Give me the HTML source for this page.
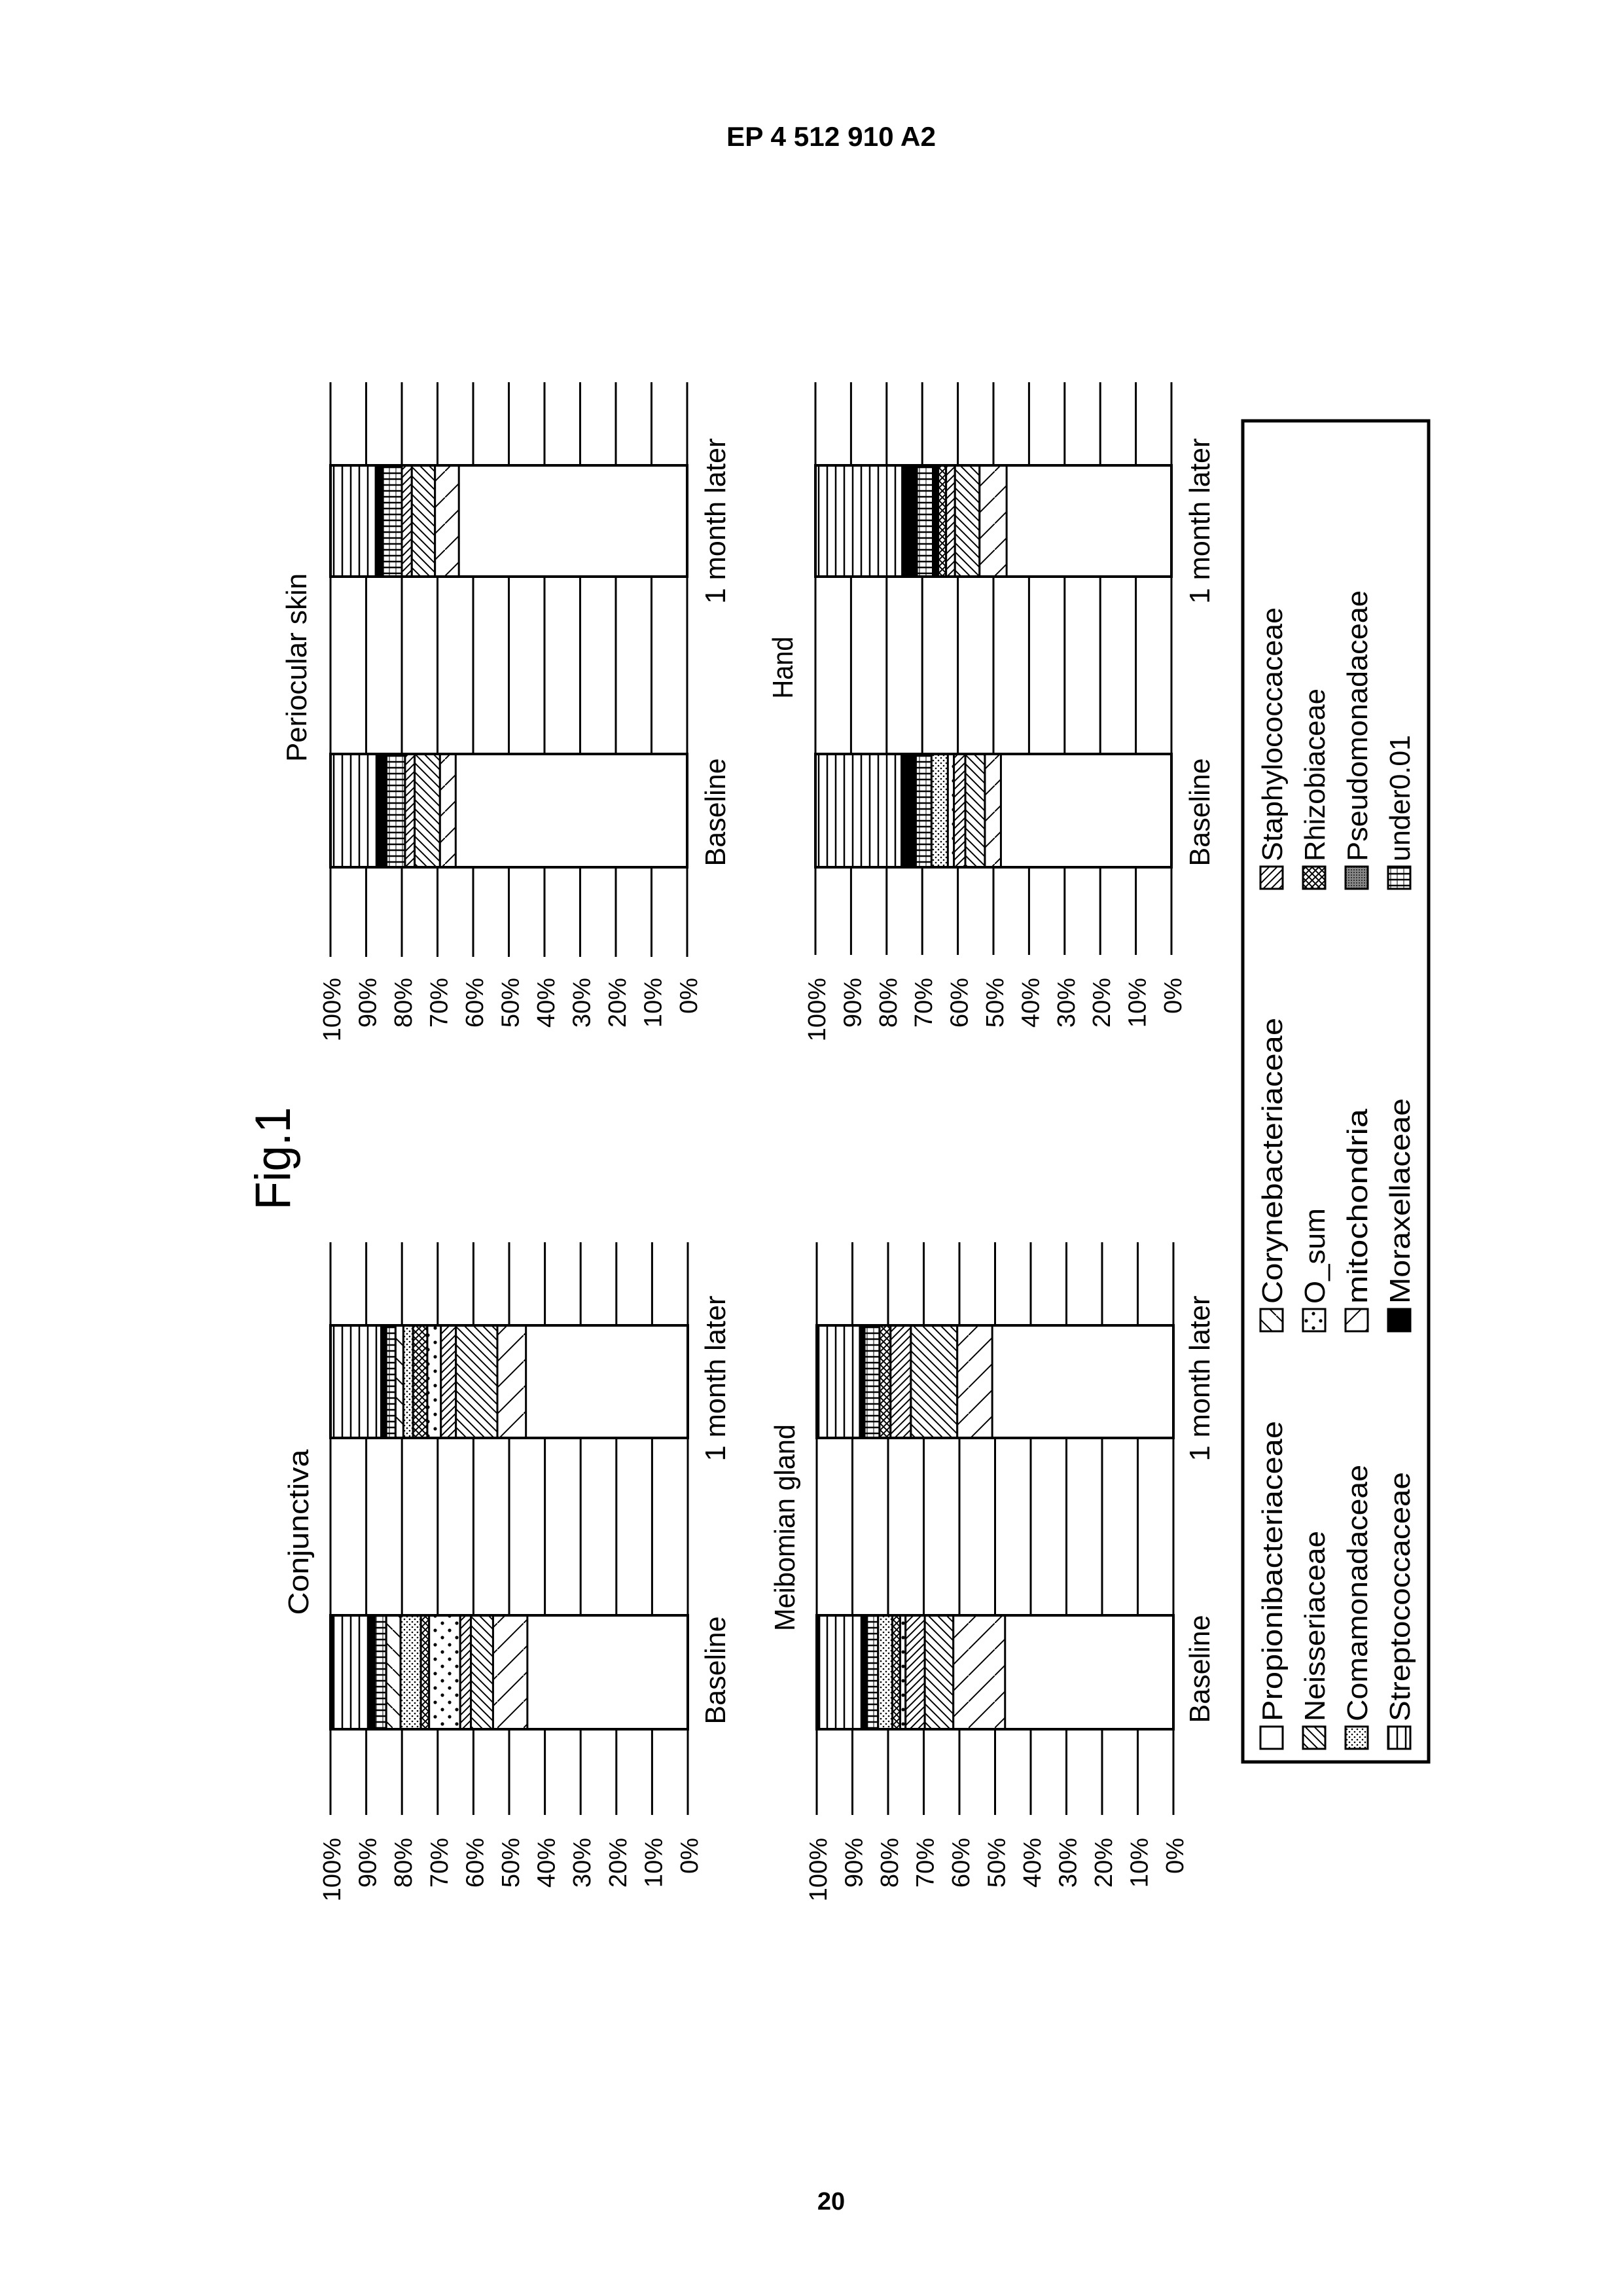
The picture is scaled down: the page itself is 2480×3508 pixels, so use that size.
<!DOCTYPE html>
<html><head><meta charset="utf-8">
<style>html,body{margin:0;padding:0;background:#fff}svg{display:block}</style>
</head><body>
<svg id="s" xmlns="http://www.w3.org/2000/svg" width="2480" height="3508" viewBox="0 0 2480 3508" font-family="Liberation Sans, Arial, sans-serif"></svg>
<script>
var defs=`<defs>
<pattern id="strep" width="13" height="10" patternUnits="userSpaceOnUse"><rect width="13" height="10" fill="#fff"/><line x1="3" y1="0" x2="3" y2="10" stroke="#000" stroke-width="2.5"/></pattern>
<pattern id="under" width="10" height="9" patternUnits="userSpaceOnUse"><rect width="10" height="9" fill="#fff"/><line x1="0" y1="3" x2="10" y2="3" stroke="#000" stroke-width="2.5"/><line x1="5" y1="0" x2="5" y2="9" stroke="#000" stroke-width="1"/></pattern>
<pattern id="cory" width="30" height="30" patternUnits="userSpaceOnUse"><rect width="30" height="30" fill="#fff"/><line x1="0" y1="0" x2="30" y2="30" stroke="#000" stroke-width="2"/></pattern>
<pattern id="coma" width="8" height="8" patternUnits="userSpaceOnUse"><rect width="8" height="8" fill="#fff"/><circle cx="2" cy="2" r="1.3" fill="#000"/><circle cx="6" cy="6" r="1.3" fill="#000"/></pattern>
<pattern id="rhizo" width="10" height="10" patternUnits="userSpaceOnUse"><rect width="10" height="10" fill="#fff"/><path d="M0 0L10 10M10 0L0 10" stroke="#000" stroke-width="2"/></pattern>
<pattern id="osum" width="22" height="22" patternUnits="userSpaceOnUse"><rect width="22" height="22" fill="#fff"/><circle cx="5" cy="5" r="2.6" fill="#000"/><circle cx="16" cy="16" r="2.6" fill="#000"/></pattern>
<pattern id="staph" width="12" height="12" patternUnits="userSpaceOnUse"><rect width="12" height="12" fill="#fff"/><path d="M0 12L12 0M-3 3L3 -3M9 15L15 9" stroke="#000" stroke-width="2"/></pattern>
<pattern id="neiss" width="14" height="14" patternUnits="userSpaceOnUse"><rect width="14" height="14" fill="#fff"/><path d="M0 0L14 14M-3 11L3 17M11 -3L17 3" stroke="#000" stroke-width="2"/></pattern>
<pattern id="mito" width="40" height="40" patternUnits="userSpaceOnUse"><rect width="40" height="40" fill="#fff"/><path d="M0 40L40 0" stroke="#000" stroke-width="2"/></pattern>
<pattern id="pseu" width="4" height="4" patternUnits="userSpaceOnUse"><rect width="4" height="4" fill="#888"/><rect width="2" height="2" fill="#333"/></pattern>
</defs>`;
var o=defs;
function T(x,y,txt,fs,anchor,len,weight){
  return `<text transform="translate(${x},${y}) rotate(-90)" font-size="${fs}" text-anchor="${anchor}"${len?` textLength="${len}" lengthAdjust="spacingAndGlyphs"`:''}${weight?` font-weight="${weight}"`:''}>${txt}</text>`;
}
var CB=[["blk",100,99.3],["strep",99.3,89.3],["blk",89.3,87.6],["under",87.6,84.4],["cory",84.4,80.4],["coma",80.4,74.7],["rhizo",74.7,72.4],["osum",72.4,63.7],["staph",63.7,60.7],["neiss",60.7,54.5],["mito",54.5,44.9]];
var CM=[["strep",100,85.8],["blk",85.8,84.4],["under",84.4,81.8],["cory",81.8,79.6],["coma",79.6,76.9],["rhizo",76.9,72.9],["osum",72.9,69.1],["staph",69.1,64.9],["neiss",64.9,53.3],["mito",53.3,45.3]];
var PB=[["strep",100,86.7],["blk",86.7,84.3],["under",84.3,79.1],["staph",79.1,76.4],["neiss",76.4,69.3],["mito",69.3,64.9]];
var PM=[["strep",100,87.3],["blk",87.3,85.3],["under",85.3,80],["staph",80,77.2],["neiss",77.2,70.7],["mito",70.7,64]];
var MB=[["blk",100,99.3],["strep",99.3,87.3],["blk",87.3,85.9],["under",85.9,82.8],["coma",82.8,78.8],["rhizo",78.8,76.6],["osum",76.6,75.1],["staph",75.1,69.7],["neiss",69.7,61.7],["mito",61.7,47.2]];
var MM=[["strep",100,87.9],["blk",87.9,86.6],["under",86.6,82.4],["rhizo",82.4,79.3],["staph",79.3,73.6],["neiss",73.6,60.6],["mito",60.6,50.8]];
var HB=[["strep",100,75.8],["blk",75.8,71.8],["under",71.8,67.4],["coma",67.4,62.8],["osum",62.8,61.1],["staph",61.1,57.9],["neiss",57.9,52.4],["mito",52.4,47.9]];
var HM=[["strep",100,75.6],["blk",75.6,71.5],["under",71.5,67],["blk",67,65.5],["rhizo",65.5,63.3],["staph",63.3,60.8],["neiss",60.8,53.9],["mito",53.9,46.3]];
var charts=[
 {x100:505,x0:1051,gy0:1898,gy1:2773,b:[2468,2642,CB],m:[2025,2197,CM],title:"Conjunctiva",tx:471,tcy:2341,tl:253,lx:1108,lb:2552,lm:2106,py:2808},
 {x100:505,x0:1050,gy0:584,gy1:1462,b:[1152,1325,PB],m:[711,881,PM],title:"Periocular skin",tx:468,tcy:1020,tl:288,lx:1108,lb:1241,lm:796,py:1494},
 {x100:1248,x0:1793,gy0:1898,gy1:2773,b:[2468,2642,MB],m:[2025,2197,MM],title:"Meibomian gland",tx:1214,tcy:2334,tl:316,lx:1848,lb:2550,lm:2106,py:2808},
 {x100:1246,x0:1790,gy0:584,gy1:1459,b:[1152,1325,HB],m:[711,881,HM],title:"Hand",tx:1211,tcy:1020,tl:95,lx:1848,lb:1241,lm:796,py:1494}
];
charts.forEach(function(c){
  function X(p){return c.x0-(c.x0-c.x100)*p/100;}
  for(var k=0;k<=10;k++){
    var gx=X(k*10);
    o+=`<line x1="${gx}" y1="${c.gy0}" x2="${gx}" y2="${c.gy1}" stroke="#000" stroke-width="3"/>`;
    o+=T(gx+15,c.py,(k*10)+"%",38,"end");
  }
  [c.b,c.m].forEach(function(bar){
    var y0=bar[0],h=bar[1]-bar[0];
    o+=`<rect x="${X(100)}" y="${y0}" width="${X(0)-X(100)}" height="${h}" fill="#fff"/>`;
    bar[2].forEach(function(s){
      var xa=X(s[1]),xb=X(s[2]);
      var f=s[0]=="blk"?"#000":"url(#"+s[0]+")";
      o+=`<rect x="${xa}" y="${y0}" width="${xb-xa}" height="${h}" fill="${f}" stroke="#000" stroke-width="3"/>`;
    });
    o+=`<rect x="${X(100)}" y="${y0}" width="${X(0)-X(100)}" height="${h}" fill="none" stroke="#000" stroke-width="4"/>`;
  });
  o+=T(c.tx,c.tcy,c.title,44,"middle",c.tl);
  o+=T(c.lx,c.lb,"Baseline",44,"middle",165);
  o+=T(c.lx,c.lm,"1 month later",44,"middle",253);
});
// legend
o+=`<rect x="1899" y="643" width="284" height="2049" fill="none" stroke="#000" stroke-width="5"/>`;
var rows=[1943,2008,2073,2138];
var cols=[2672,2034,1358];
var items=[
 [0,0,"#fff","Propionibacteriaceae",459],[1,0,"url(#neiss)","Neisseriaceae",291],[2,0,"url(#coma)","Comamonadaceae",392],[3,0,"url(#strep)","Streptococcaceae",381],
 [0,1,"url(#cory)","Corynebacteriaceae",437],[1,1,"url(#osum)","O_sum",146],[2,1,"url(#mito)","mitochondria",298],[3,1,"#000","Moraxellaceae",314],
 [0,2,"url(#staph)","Staphylococcaceae",388],[1,2,"url(#rhizo)","Rhizobiaceae",264],[2,2,"url(#pseu)","Pseudomonadaceae",414],[3,2,"url(#under)","under0.01",193]
];
items.forEach(function(it){
  var rx=rows[it[0]],sb=cols[it[1]];
  o+=`<rect x="${rx-17}" y="${sb-34}" width="34" height="34" fill="${it[2]}" stroke="#000" stroke-width="3"/>`;
  o+=T(rx+16,sb-42,it[3],44,"start",it[4]);
});
// header, fig, page
o+=`<text x="1110" y="223" font-size="42" font-weight="bold" textLength="320" lengthAdjust="spacingAndGlyphs">EP 4 512 910 A2</text>`;
o+=T(443,1770,"Fig.1",76,"middle",157);
o+=`<text x="1270" y="3376" font-size="38" font-weight="bold" text-anchor="middle">20</text>`;
document.getElementById("s").innerHTML=o;
</script>
</body></html>
